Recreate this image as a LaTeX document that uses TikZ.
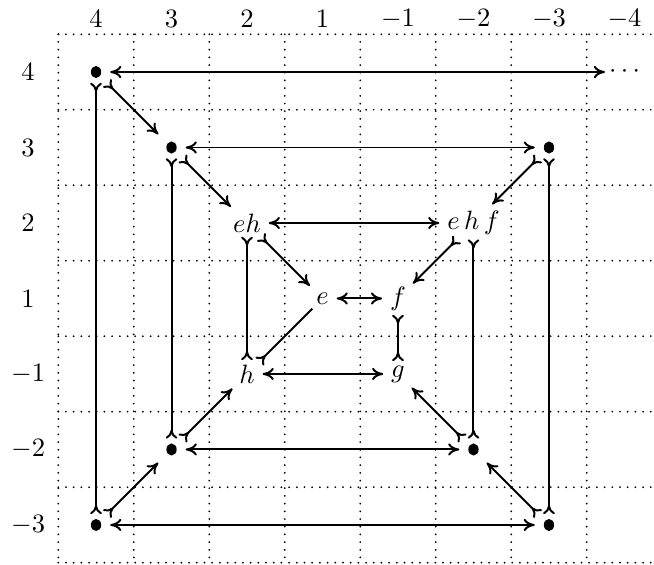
\documentclass[tikz,border=0pt]{standalone}
\usetikzlibrary{arrows.meta}
\tikzset{
  cmr/.tip={Computer Modern Rightarrow[length=4.2pt,width=4.6pt,sep=1.3pt]},
  cmrr/.tip={Computer Modern Rightarrow[length=3.4pt,width=4.4pt,reversed]},
  link/.style={line width=0.75pt},
  mm/.style={link, arrows={cmrr-cmr}},
  tt/.style={link, arrows={cmrr-cmrr}},
  bi/.style={link, arrows={cmr-cmr}},
  et/.style={link, arrows={-cmrr}},
  dotn/.style={rectangle, inner sep=0pt, minimum size=0.27cm,
    path picture={\fill (path picture bounding box.center) ellipse [x radius=0.068cm, y radius=0.08cm];}},
  txt/.style={inner sep=1.5pt},
  lab/.style={inner sep=0pt},
  griddot/.style={line width=0.75pt, line cap=round, dash pattern=on 0pt off 2.9pt},
}
\begin{document}
\begin{tikzpicture}[x=1cm,y=1cm]
\useasboundingbox (-1.272,0.954) rectangle (7.391,-6.530);
% grid
\foreach \gx in {-0.5,0.5,...,6.5} \draw[griddot] (\gx,0.5) -- (\gx,-6.5);
\foreach \gy in {0.5,-0.5,...,-6.5} \draw[griddot] (-0.5,\gy) -- (7.5,\gy);
% column labels
\node[lab] (c1) at (0,0.70) {$4$};
\node[lab] (c2) at (1,0.70) {$3$};
\node[lab] (c3) at (2,0.70) {$2$};
\node[lab] (c4) at (3,0.70) {$1$};
\node[lab] (c5) at (4,0.70) {$-1$};
\node[lab] (c6) at (5,0.70) {$-2$};
\node[lab] (c7) at (6,0.70) {$-3$};
\node[lab] (c8) at (7,0.70) {$-4$};
% row labels
\node[lab] (r1) at (-0.9,0) {$4$};
\node[lab] (r2) at (-0.9,-1) {$3$};
\node[lab] (r3) at (-0.9,-2) {$2$};
\node[lab] (r4) at (-0.9,-3) {$1$};
\node[lab] (r5) at (-0.9,-4) {$-1$};
\node[lab] (r6) at (-0.9,-5) {$-2$};
\node[lab] (r7) at (-0.9,-6) {$-3$};
% nodes
\node[dotn] (A4) at (0,0) {};
\node[dotn] (A3) at (1,-1) {};
\node[dotn] (B3) at (6,-1) {};
\node[txt] (eh) at (2,-2) {$eh$};
\node[txt] (ehf) at (5,-2) {$e\,h\,f$};
\node[txt] (e) at (3,-3) {$e$};
\node[txt] (f) at (4,-3) {$f$};
\node[txt] (h) at (2,-4) {$h$};
\node[txt] (g) at (4,-4) {$g$};
\node[dotn] (C2) at (1,-5) {};
\node[dotn] (D2) at (5,-5) {};
\node[dotn] (C3) at (0,-6) {};
\node[dotn] (D3) at (6,-6) {};
\node[inner sep=0pt] (cd) at (7,0) {$\cdots$};
% horizontals
\draw[bi] (A4) -- (cd);
\draw[bi] (A3) -- (B3);
\draw[bi] (eh) -- (ehf);
\draw[bi] (e) -- (f);
\draw[bi] (h) -- (g);
\draw[bi] (C2) -- (D2);
\draw[bi] (C3) -- (D3);
% verticals
\draw[tt] (A4) -- (C3);
\draw[tt] (A3) -- (C2);
\draw[tt] (B3) -- (D3);
\draw[tt] (ehf) -- (D2);
\draw[tt] (eh) -- (h);
\draw[tt] (f) -- (g);
% diagonals
\draw[mm] (A4) -- (A3);
\draw[mm] (A3) -- (eh);
\draw[mm] (eh) -- (e);
\draw[mm] (B3) -- (ehf);
\draw[mm] (ehf) -- (f);
\draw[et] (e) -- (h);
\draw[mm] (C2) -- (h);
\draw[mm] (C3) -- (C2);
\draw[mm] (D2) -- (g);
\draw[mm] (D3) -- (D2);
\end{tikzpicture}
\end{document}
